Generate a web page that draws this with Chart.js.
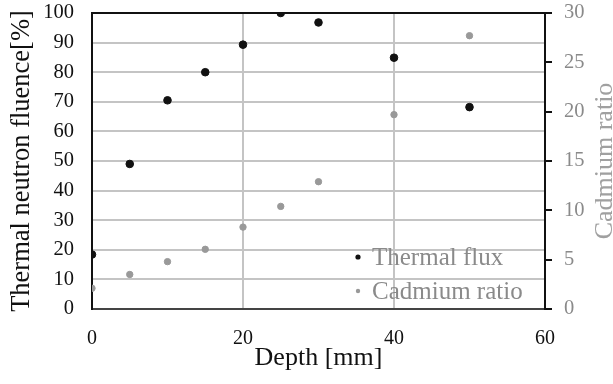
<!DOCTYPE html>
<html>
<head>
<meta charset="utf-8">
<script src="https://cdn.jsdelivr.net/npm/chart.js@4"></script>
<style>
  html, body { margin: 0; padding: 0; background: #fff; }
  #wrap { width: 613px; height: 384px; position: relative; }
</style>
</head>
<body>
<div id="wrap"><canvas id="c"></canvas></div>
<script>
// Depth profile: thermal flux (left axis, %) and cadmium ratio (right axis)
const depth    = [0, 5, 10, 15, 20, 25, 30, 40, 50];
const thermal  = [18.4, 49, 70.5, 80, 89.3, 100, 96.8, 84.9, 68.2];
const cadmium  = [2.1, 3.5, 4.8, 6.05, 8.3, 10.4, 12.9, 19.7, 27.7];
const xTicks   = [0, 20, 40, 60];

const SERIF = "'Liberation Serif', 'Times New Roman', serif";
const INK = '#111', GREY = '#999', TXT_GREY = '#8a8a8a', GRID = '#c4c4c4';

// fixed axis boxes so the plot lands at 92..545 x 13..307
const fixW = w => s => { s.width = w; s.paddingTop = 0; s.paddingBottom = 0; };

// legend + right-hand title drawn by hand (legend sits inside the plot, title reads bottom-up)
const overlay = {
  id: 'overlay',
  afterDraw(chart) {
    const { ctx, chartArea: a } = chart;
    ctx.save();
    ctx.font = `25px ${SERIF}`;
    ctx.textBaseline = 'middle';
    ctx.textAlign = 'left';
    chart.data.datasets.forEach((ds, i) => {
      const y = a.bottom - 52 + i * 34;
      ctx.fillStyle = ds.backgroundColor;
      ctx.beginPath(); ctx.arc(a.right - 187, y, i ? 2.2 : 2.6, 0, Math.PI * 2); ctx.fill();
      ctx.fillStyle = TXT_GREY;
      ctx.fillText(ds.label, a.right - 173, y + 1);
    });
    ctx.font = `26px ${SERIF}`;
    ctx.translate(605, (a.top + a.bottom) / 2);
    ctx.rotate(-Math.PI / 2);
    ctx.textAlign = 'center';
    ctx.fillStyle = '#a0a0a0';
    ctx.fillText('Cadmium ratio', 0, 0);
    ctx.restore();
  },
};

new Chart(document.getElementById('c'), {
  type: 'scatter',
  data: {
    datasets: [
      { label: 'Thermal flux', data: depth.map((d, i) => ({ x: d, y: thermal[i] })), yAxisID: 'y',
        backgroundColor: INK, borderColor: INK, pointRadius: 3.8 },
      { label: 'Cadmium ratio', data: depth.map((d, i) => ({ x: d, y: cadmium[i] })), yAxisID: 'y2',
        backgroundColor: GREY, borderColor: GREY, pointRadius: 3.2 },
    ],
  },
  options: {
    responsive: true, maintainAspectRatio: false, animation: false,
    layout: { padding: { top: 13, left: 0, right: 0, bottom: 0 } },
    plugins: { legend: { display: false }, tooltip: { enabled: false } },
    scales: {
      x: {
        type: 'linear', min: 0, max: 60,
        afterBuildTicks: s => { s.ticks = xTicks.map(v => ({ value: v })); },
        afterFit: s => { s.height = 75; s.paddingLeft = 0; s.paddingRight = 0; },
        grid: { color: GRID, lineWidth: 2, drawTicks: false },
        border: { color: '#444', width: 2 },
        ticks: { color: INK, padding: 18, font: { family: SERIF, size: 20 } },
        title: { display: true, text: 'Depth [mm]', color: INK, padding: 10, font: { family: SERIF, size: 26 } },
      },
      y: {
        position: 'left', min: 0, max: 100,
        afterFit: fixW(92),
        grid: { color: c => c.tick && c.tick.value === 100 ? '#111' : GRID, lineWidth: 2, drawTicks: false },
        border: { color: '#111', width: 2 },
        ticks: { stepSize: 10, color: INK, padding: 18, font: { family: SERIF, size: 20.5 } },
        title: { display: true, text: 'Thermal neutron fluence[%]', color: INK, padding: 6, font: { family: SERIF, size: 26.5 } },
      },
      y2: {
        position: 'right', min: 0, max: 30,
        afterFit: fixW(68),
        grid: { drawOnChartArea: false, color: '#111', lineWidth: 2, tickLength: 7 },
        border: { color: '#111', width: 2 },
        ticks: { stepSize: 5, color: TXT_GREY, padding: 12, font: { family: SERIF, size: 20.5 } },
      },
    },
  },
  plugins: [overlay],
});
</script>
</body>
</html>
